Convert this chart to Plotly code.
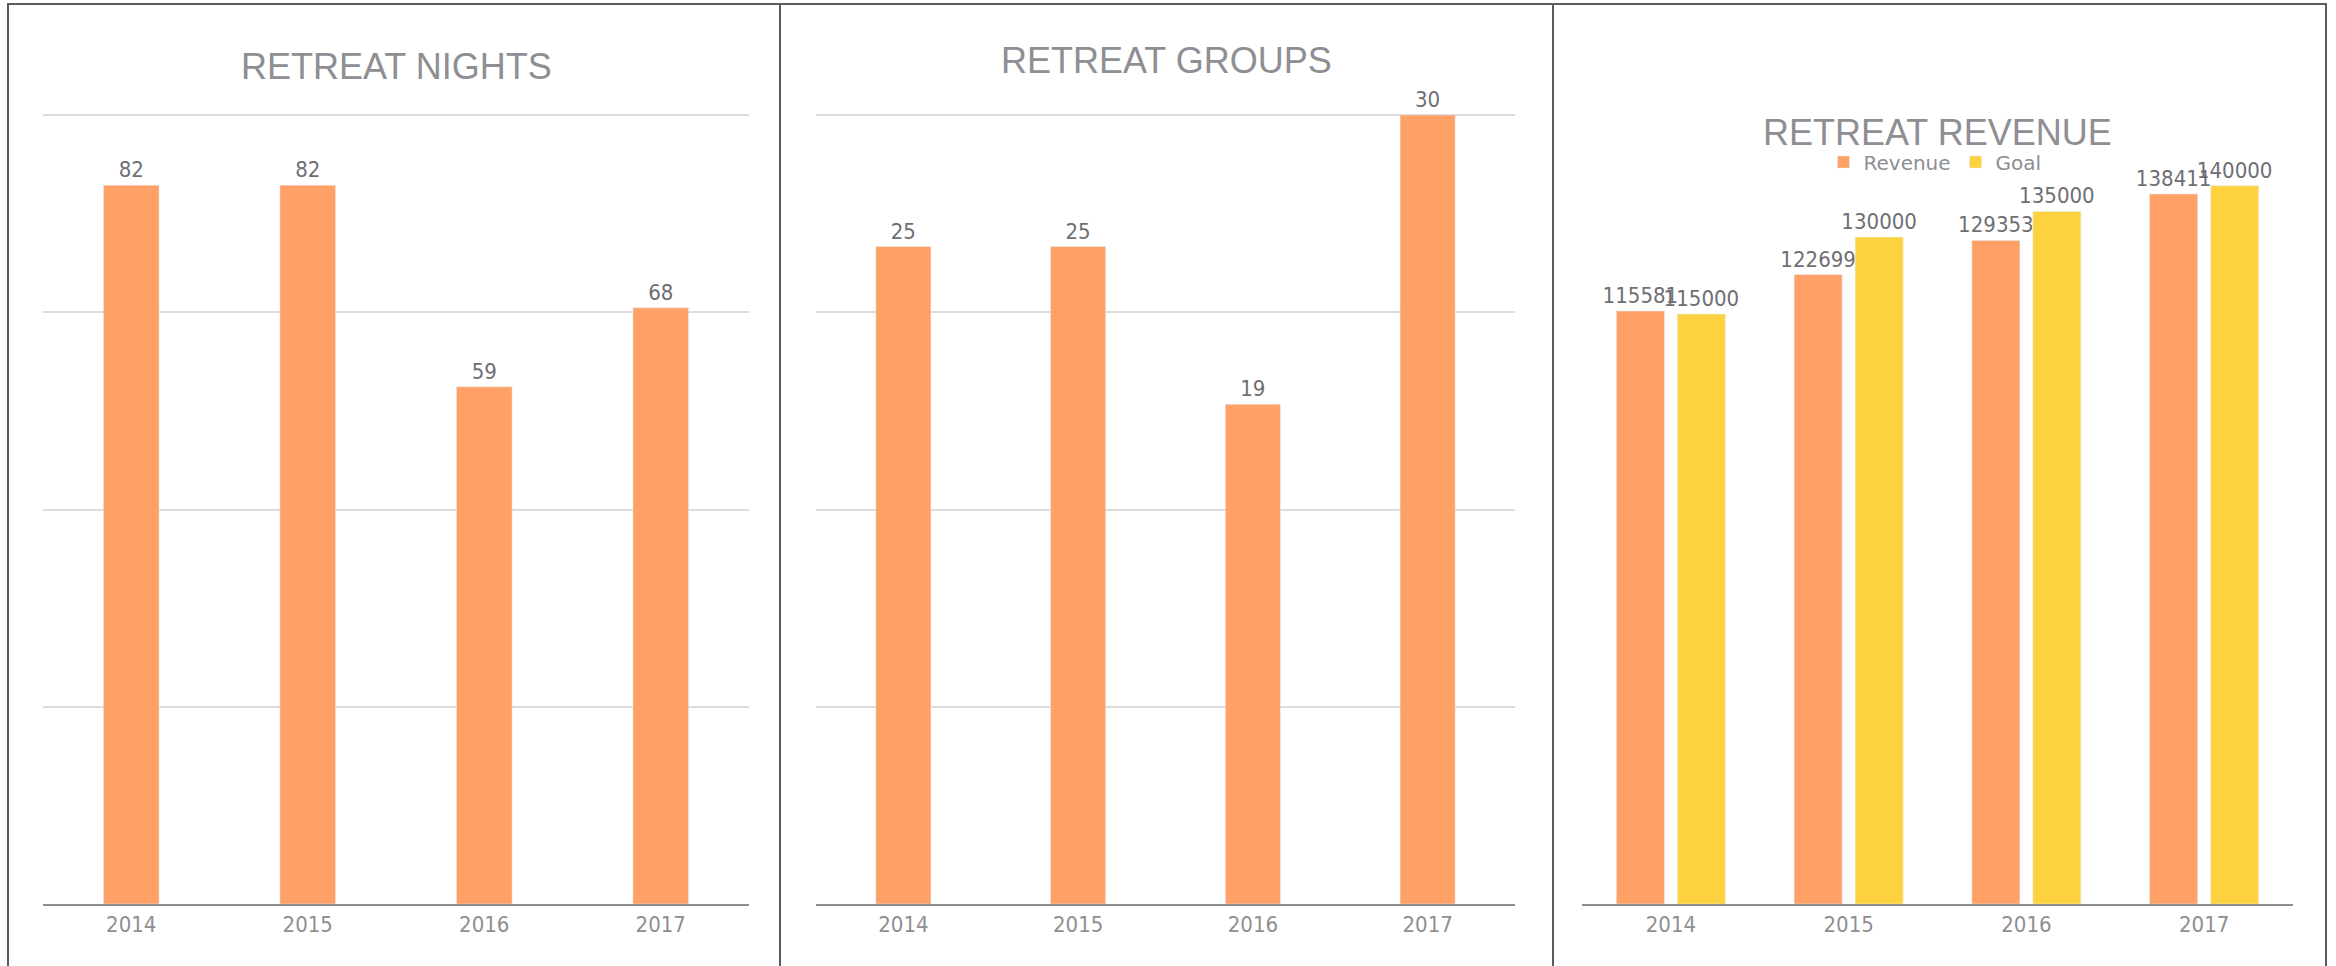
import plotly.graph_objects as go

# ---------------- data ----------------
years = ["2014", "2015", "2016", "2017"]
nights = [82, 82, 59, 68]
groups = [25, 25, 19, 30]
revenue = [115581, 122699, 129353, 138411]
goal = [115000, 130000, 135000, 140000]
titles = ["RETREAT NIGHTS", "RETREAT GROUPS", "RETREAT REVENUE"]

# ---------------- style ----------------
W, H = 2336, 966
ORANGE = "#FFA066"
YELLOW = "#FED23F"
TITLE_C = "#8e8e93"
TICK_C = "#8e8e93"
LABEL_C = "#6e6e73"
GRID_C = "#dcdcdc"
AXIS_C = "#8e8e8e"
BORDER_C = "#5c5c60"
LABEL_FONT = dict(family="DejaVu Sans Condensed, DejaVu Sans", size=22, color=LABEL_C)
TICK_FONT = dict(family="DejaVu Sans Condensed, DejaVu Sans", size=22, color=TICK_C)


def px_x(p):
    return p / W


def px_y(p):
    return 1 - p / H


x_domains = [(px_x(43), px_x(749)), (px_x(816), px_x(1515)), (px_x(1582), px_x(2293))]
# plot area extends 3px above the top gridline so that gridline is drawn
BASE, TOPGRID, EXTRA = 904, 115, 3
y_domain = (px_y(BASE), px_y(TOPGRID - EXTRA))
stretch = (BASE - TOPGRID + EXTRA) / (BASE - TOPGRID)

fig = go.Figure()

fig.add_trace(go.Bar(x=years, y=nights, marker_color=ORANGE, text=nights,
                     textposition="outside", textfont=LABEL_FONT, cliponaxis=False,
                     constraintext="none", xaxis="x", yaxis="y", showlegend=False))
fig.add_trace(go.Bar(x=years, y=groups, marker_color=ORANGE, text=groups,
                     textposition="outside", textfont=LABEL_FONT, cliponaxis=False,
                     constraintext="none", xaxis="x2", yaxis="y2", showlegend=False))
fig.add_trace(go.Bar(x=years, y=revenue, name="Revenue", marker_color=ORANGE, text=revenue,
                     textposition="outside", textfont=LABEL_FONT, cliponaxis=False,
                     constraintext="none", xaxis="x3", yaxis="y3", offsetgroup="r"))
fig.add_trace(go.Bar(x=years, y=goal, name="Goal", marker_color=YELLOW, text=goal,
                     textposition="outside", textfont=LABEL_FONT, cliponaxis=False,
                     constraintext="none", xaxis="x3", yaxis="y3", offsetgroup="g"))

xaxis_common = dict(showline=True, linecolor=AXIS_C, linewidth=2, ticks="",
                    tickfont=TICK_FONT, showgrid=False, zeroline=False, fixedrange=True)

fig.update_layout(
    width=W, height=H,
    margin=dict(l=0, r=0, t=0, b=0),
    paper_bgcolor="white", plot_bgcolor="rgba(0,0,0,0)",
    barmode="group", bargap=0.685, bargroupgap=0.0,
    xaxis=dict(domain=x_domains[0], anchor="y", **xaxis_common),
    xaxis2=dict(domain=x_domains[1], anchor="y2", **xaxis_common),
    xaxis3=dict(domain=x_domains[2], anchor="y3", **xaxis_common),
    yaxis=dict(domain=y_domain, anchor="x", range=[0, 90 * stretch], tick0=0, dtick=22.5,
               showgrid=True, gridcolor=GRID_C, gridwidth=2, showticklabels=False,
               zeroline=False, showline=False),
    yaxis2=dict(domain=y_domain, anchor="x2", range=[0, 30 * stretch], tick0=0, dtick=7.5,
                showgrid=True, gridcolor=GRID_C, gridwidth=2, showticklabels=False,
                zeroline=False, showline=False),
    yaxis3=dict(domain=y_domain, anchor="x3", range=[0, 153800 * stretch],
                showgrid=False, showticklabels=False, zeroline=False, showline=False),
    legend=dict(orientation="h", x=px_x(1935), xanchor="center", y=px_y(162),
                yanchor="middle", font=dict(family="DejaVu Sans", size=20, color=TICK_C),
                bgcolor="rgba(0,0,0,0)"),
)

# bar widths / offsets for the grouped revenue panel
fig.update_traces(selector=dict(xaxis="x3"), width=0.27)
fig.data[2].update(offset=-0.3066)
fig.data[3].update(offset=0.0366)

# titles
title_pos = [(px_x(396), px_y(66)), (px_x(1166), px_y(60)), (px_x(1937), px_y(132))]
for t, (tx, ty) in zip(titles, title_pos):
    fig.add_annotation(text=t, x=tx, y=ty, xref="paper", yref="paper",
                       xanchor="center", yanchor="middle", showarrow=False,
                       font=dict(family="Liberation Sans, Arial", size=36, color=TITLE_C))

# panel borders
border = dict(color=BORDER_C, width=2)
fig.add_shape(type="line", xref="paper", yref="paper", x0=px_x(7), x1=px_x(2327), y0=px_y(4), y1=px_y(4), line=border)
for bx in [8, 780, 1553, 2326]:
    fig.add_shape(type="line", xref="paper", yref="paper", x0=px_x(bx), x1=px_x(bx), y0=0, y1=px_y(4), line=border)

fig.write_html("out.html", config={"displayModeBar": False},
               post_script="document.body.style.margin='0';")
